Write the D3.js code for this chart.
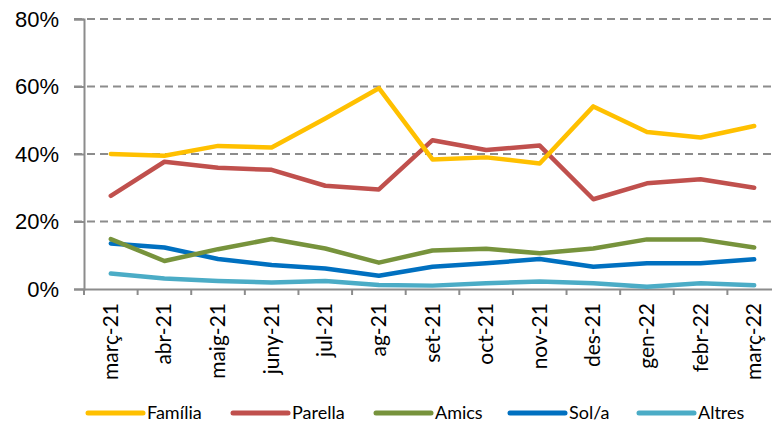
<!DOCTYPE html>
<head>
    <meta charset="utf-8">
    <script src="https://cdn.jsdelivr.net/npm/d3@7"></script>
    <style>
        body { margin: 0; background: #fff; }
        svg { font-family: Lato, 'Open Sans', sans-serif; display: block; }
    </style>
</head>
<body>
    <svg id="chart" width="772" height="425"></svg>
    <script>
        // Data
        var months = ["març-21", "abr-21", "maig-21", "juny-21", "jul-21", "ag-21", "set-21",
            "oct-21", "nov-21", "des-21", "gen-22", "febr-22", "març-22"];
        var familia = [40.0, 39.5, 42.4, 41.9, 50.5, 59.5, 38.4, 39.0, 37.2, 54.1, 46.5, 44.9, 48.3];
        var parella = [27.6, 37.7, 35.9, 35.3, 30.6, 29.5, 44.1, 41.2, 42.5, 26.6, 31.3, 32.5, 30.0];
        var amics = [14.8, 8.3, 11.8, 14.8, 12.0, 7.8, 11.4, 11.9, 10.6, 12.0, 14.7, 14.7, 12.3];
        var sola = [13.5, 12.3, 8.9, 7.1, 6.1, 3.9, 6.6, 7.6, 8.9, 6.6, 7.6, 7.6, 8.8];
        var altres = [4.6, 3.1, 2.4, 1.9, 2.4, 1.2, 1.0, 1.7, 2.2, 1.7, 0.7, 1.7, 1.1];
        var yTicks = [0, 20, 40, 60, 80];

        var series = [
            { name: "Família", values: familia, color: "#FFC000" },
            { name: "Parella", values: parella, color: "#C0504D" },
            { name: "Amics", values: amics, color: "#77933C" },
            { name: "Sol/a", values: sola, color: "#0070C0" },
            { name: "Altres", values: altres, color: "#4BACC6" }
        ];

        var svg = d3.select("#chart");
        var plotLeft = 84, plotRight = 781, plotTop = 19, plotBottom = 289;

        var x = d3.scaleBand().domain(months).range([plotLeft, plotRight]).padding(0);
        var y = d3.scaleLinear().domain([0, 80]).range([plotBottom, plotTop]);

        // dashed gridlines
        svg.append("g")
            .selectAll("line")
            .data(yTicks.filter(d => d > 0))
            .join("line")
            .attr("x1", plotLeft - 10)
            .attr("x2", 772)
            .attr("y1", d => y(d))
            .attr("y2", d => y(d))
            .attr("stroke", "#8c8c8c")
            .attr("stroke-width", 2)
            .attr("stroke-dasharray", "8,5");

        // Y axis
        var yAxis = svg.append("g")
            .attr("transform", `translate(${plotLeft},0)`)
            .call(d3.axisLeft(y).tickValues(yTicks).tickSize(10).tickPadding(15)
                .tickFormat(d => d + "%"));
        yAxis.select(".domain").attr("stroke", "#8c8c8c").attr("stroke-width", 2);
        yAxis.selectAll(".tick line").attr("stroke", "#8c8c8c").attr("stroke-width", 2);
        yAxis.selectAll(".tick text")
            .style("font-size", "22px")
            .attr("fill", "#000");

        // X axis
        var xAxis = svg.append("g")
            .attr("transform", `translate(0,${plotBottom})`)
            .call(d3.axisBottom(x).tickSize(0).tickFormat(""));
        xAxis.select(".domain").attr("stroke", "#8c8c8c").attr("stroke-width", 2);

        // boundary tick marks
        svg.append("g")
            .selectAll("line")
            .data(months)
            .join("line")
            .attr("x1", d => x(d))
            .attr("x2", d => x(d))
            .attr("y1", plotBottom)
            .attr("y2", plotBottom + 6)
            .attr("stroke", "#8c8c8c")
            .attr("stroke-width", 2);

        // rotated month labels
        svg.append("g")
            .selectAll("text")
            .data(months)
            .join("text")
            .attr("transform", d => `translate(${x(d) + x.bandwidth() / 2 + 7},${plotBottom + 14}) rotate(-90)`)
            .attr("text-anchor", "end")
            .style("font-size", "21px")
            .attr("fill", "#000")
            .text(d => d);

        // lines
        var line = d3.line()
            .x((d, i) => x(months[i]) + x.bandwidth() / 2)
            .y(d => y(d));

        series.slice().reverse().forEach(function (s) {
            svg.append("path")
                .datum(s.values)
                .attr("fill", "none")
                .attr("stroke", s.color)
                .attr("stroke-width", 4.5)
                .attr("stroke-linejoin", "round")
                .attr("stroke-linecap", "round")
                .attr("d", line);
        });

        // legend
        var legendX = [88, 233, 376, 510, 639];
        var legend = svg.append("g");
        series.forEach(function (s, i) {
            legend.append("line")
                .attr("x1", legendX[i])
                .attr("x2", legendX[i] + 55)
                .attr("y1", 413)
                .attr("y2", 413)
                .attr("stroke", s.color)
                .attr("stroke-width", 5)
                .attr("stroke-linecap", "round");
            legend.append("text")
                .attr("x", legendX[i] + 59)
                .attr("y", 413)
                .attr("dy", "0.35em")
                .style("font-size", "18px")
                .attr("fill", "#000")
                .text(s.name);
        });
    </script>
</body>
</html>
